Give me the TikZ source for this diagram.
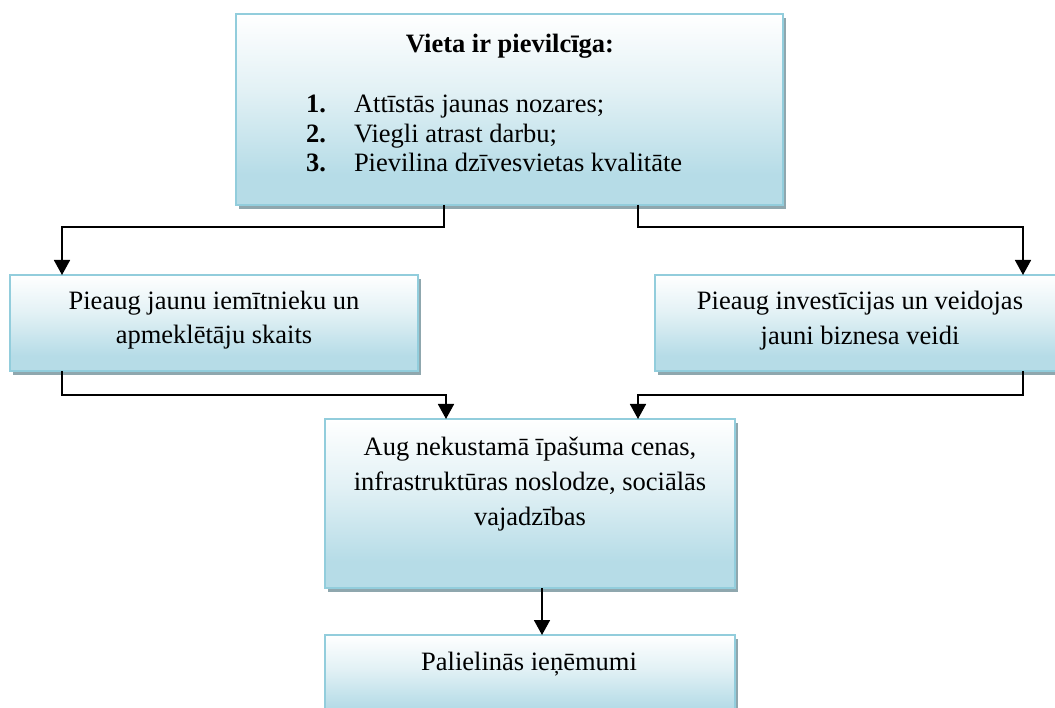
\documentclass[tikz,border=0pt]{standalone}
\usepackage{fontspec}
\setmainfont{Liberation Serif}
\usetikzlibrary{arrows.meta,shadows,calc}
\definecolor{boxline}{HTML}{92CDDC}
\definecolor{boxbot}{HTML}{B6DCE7}
\definecolor{boxmid}{HTML}{E2F1F5}
\definecolor{shadowc}{HTML}{8FA7AE}
\pgfdeclareverticalshading{boxshade}{100bp}{color(0bp)=(boxbot); color(25bp)=(boxbot); color(33bp)=(boxbot); color(55bp)=(boxmid); color(75bp)=(white); color(100bp)=(white)}
\tikzset{
  boxnode/.style={draw=boxline, line width=2pt, shading=boxshade, outer sep=0pt, inner sep=0pt,
    anchor=north west, rectangle,
    drop shadow={shadow xshift=3pt, shadow yshift=-4pt, fill=shadowc, opacity=1}},
  txt/.style={inner sep=0pt, outer sep=0pt, align=center, font=\fontsize{26.5}{34}\selectfont},
  conn/.style={draw=black, line width=1.7pt, -{Triangle[width=16pt,length=15pt]}}
}
\begin{document}
\begin{tikzpicture}[x=1pt,y=-1pt]
\useasboundingbox (0,0) rectangle (1055,708);
\clip (0,0) rectangle (1055,708);
% boxes
\node[boxnode, minimum width=547pt, minimum height=191pt] (top) at (236,14) {};
\node[boxnode, minimum width=408pt, minimum height=96pt] (left) at (10,275) {};
\node[boxnode, minimum width=410pt, minimum height=96pt] (right) at (655,275) {};
\node[boxnode, minimum width=410pt, minimum height=169pt] (mid) at (325,419) {};
\node[boxnode, minimum width=410pt, minimum height=85pt] (bot) at (325,635) {};
% texts (anchor base = baseline of the last line)
\node[txt, anchor=base, font=\fontsize{26.5}{34}\selectfont\bfseries] (ttitle) at (510,53) {Vieta ir pievilcīga:};
\node[txt, anchor=base west, align=left, font=\fontsize{26.5}{29.5}\selectfont] (tlist) at (306,172)
  {\makebox[48pt][l]{\textbf{1.}}Attīstās jaunas nozares;\\
   \makebox[48pt][l]{\textbf{2.}}Viegli atrast darbu;\\
   \makebox[48pt][l]{\textbf{3.}}Pievilina dzīvesvietas kvalitāte};
\node[txt, anchor=base, font=\fontsize{26.5}{33.5}\selectfont] (tleft) at (214,343.5) {Pieaug jaunu iemītnieku un\\apmeklētāju skaits};
\node[txt, anchor=base, font=\fontsize{26.5}{34.5}\selectfont] (tright) at (860,344.5) {Pieaug investīcijas un veidojas\\jauni biznesa veidi};
\node[txt, anchor=base, font=\fontsize{26.5}{35}\selectfont] (tmid) at (530,525) {Aug nekustamā īpašuma cenas,\\infrastruktūras noslodze, sociālās\\vajadzības};
\node[txt, anchor=base] (tbot) at (529,670) {Palielinās ieņēmumi};
% connectors
\draw[conn] ([xshift=208pt]top.south west) -- ++(0,22) -| ([xshift=52pt]left.north west);
\draw[conn] ([xshift=402pt]top.south west) -- ++(0,22) -| ([xshift=368pt]right.north west);
\draw[conn] ([xshift=52pt]left.south west) -- ++(0,24) -| ([xshift=121pt]mid.north west);
\draw[conn] ([xshift=368pt]right.south west) -- ++(0,24) -| ([xshift=313pt]mid.north west);
\draw[conn] ([xshift=217pt]mid.south west) -- ([xshift=217pt]bot.north west);
\end{tikzpicture}
\end{document}
